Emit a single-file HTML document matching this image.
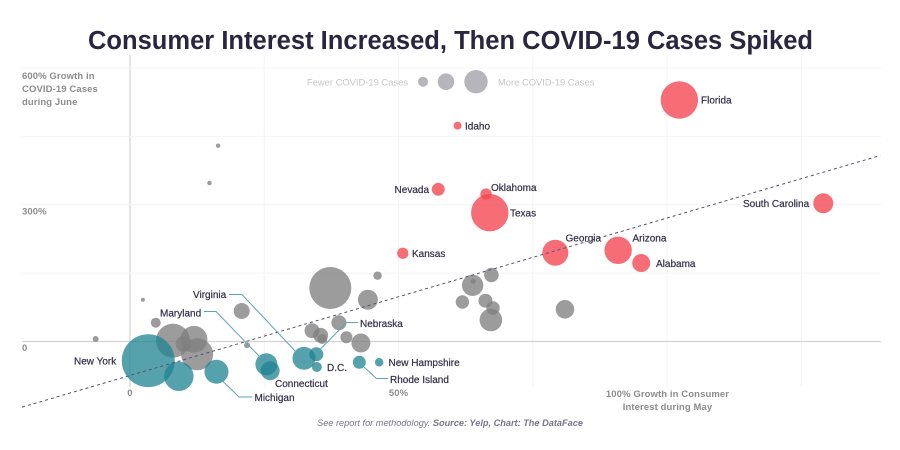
<!DOCTYPE html>
<html lang="en">
<head>
<meta charset="utf-8">
<title>Consumer Interest Increased, Then COVID-19 Cases Spiked</title>
<style>
html,body{margin:0;padding:0;background:#fff;width:900px;height:450px;overflow:hidden}
svg{display:block}
text{font-family:"Liberation Sans",sans-serif}
.lab{font-size:10px;fill:#34324a;stroke:#34324a;stroke-width:.22px}
.axl{font-size:9.5px;font-weight:bold;fill:#8c8c8c;letter-spacing:.1px}
.leg{font-size:9.4px;fill:#c6c6ca}
.conn{fill:none;stroke:#5fa5b0;stroke-width:1}
</style>
</head>
<body>
<svg id="chart" width="900" height="450" viewBox="0 0 900 450" xmlns="http://www.w3.org/2000/svg">
  <text x="88" y="49" textLength="725" lengthAdjust="spacing" style="font-size:25.5px;font-weight:bold;fill:#2a2640">Consumer Interest Increased, Then COVID-19 Cases Spiked</text>
  <g id="grid"></g>
  <g id="marks"></g>
  <g id="trend"></g>
  <g>
    <polyline class="conn" points="229,294.5 242,294.5 296,352"/>
    <polyline class="conn" points="204,311.5 216,311.5 260,357"/>
    <polyline class="conn" points="223,381.5 239,397 252,397"/>
    <polyline class="conn" points="358,322.5 346.5,322.5 320.5,349"/>
    <polyline class="conn" points="364,367 376.5,378.5 388,378.5"/>
  </g>
  <g>
    <text class="lab" x="701" y="103.5">Florida</text>
    <text class="lab" x="465" y="129.5">Idaho</text>
    <text class="lab" x="429" y="193" text-anchor="end">Nevada</text>
    <text class="lab" x="491" y="191">Oklahoma</text>
    <text class="lab" x="510" y="216.5">Texas</text>
    <text class="lab" x="412" y="257">Kansas</text>
    <text class="lab" x="565.5" y="241.5">Georgia</text>
    <text class="lab" x="632.5" y="241.5">Arizona</text>
    <text class="lab" x="656" y="267">Alabama</text>
    <text class="lab" x="743" y="207">South Carolina</text>
    <text class="lab" x="193" y="298">Virginia</text>
    <text class="lab" x="160" y="316.5">Maryland</text>
    <text class="lab" x="74" y="364.5">New York</text>
    <text class="lab" x="254.5" y="401">Michigan</text>
    <text class="lab" x="275" y="387">Connecticut</text>
    <text class="lab" x="360" y="327">Nebraska</text>
    <text class="lab" x="327" y="371">D.C.</text>
    <text class="lab" x="388.5" y="366">New Hampshire</text>
    <text class="lab" x="390" y="383">Rhode Island</text>
  </g>
  <g>
    <text class="axl" x="22" y="79">600% Growth in</text>
    <text class="axl" x="22" y="92">COVID-19 Cases</text>
    <text class="axl" x="22" y="105">during June</text>
  </g>
  <g>
    <text class="axl" x="667.5" y="397" text-anchor="middle">100% Growth in Consumer</text>
    <text class="axl" x="667.5" y="410" text-anchor="middle">Interest during May</text>
  </g>
  <g>
    <text class="leg" x="408" y="85.5" text-anchor="end">Fewer COVID-19 Cases</text>
    <circle cx="423" cy="81.7" r="5" fill="#b6b5bc"/>
    <circle cx="446" cy="81.7" r="8.3" fill="#b6b5bc"/>
    <circle cx="476" cy="81.7" r="11.7" fill="#b6b5bc"/>
    <text class="leg" x="498" y="85.5">More COVID-19 Cases</text>
  </g>
  <text x="450" y="426" text-anchor="middle" style="font-size:9.2px;font-style:italic;fill:#77778a">See report for methodology. <tspan font-weight="bold">Source: Yelp, Chart: The DataFace</tspan></text>
</svg>
<script>
var xGridTicks = [0, 25, 50, 75, 100, 125];
var yGridTicks = [0, 150, 300, 450, 600];
var xTickLabels = ["0", "50%"];
var xTickLabelValues = [0, 50];
var yTickLabels = ["0", "300%"];
var yTickLabelValues = [0, 300];

var grayX = [2.4,-6.4,4.8,8,11.9,10,12.5,20.8,21.8,37.3,46.1,44.3,38.9,33.9,35.5,35.8,40.3,43,63.8,63.9,67.3,61.9,66.2,67.6,67.2,81,16.4,14.8];
var grayY = [91.7,5.5,41.2,1.8,4.8,-5.5,-28.1,66.9,-8.3,117.4,144.4,91.7,41.2,23.7,13.6,5.5,9.2,-3.3,123.3,132.1,145.9,86.7,89.5,73.5,47.2,70.6,429.6,347.7];
var graySize = [4,9,25,289,182,64,256,64,9,441,18,100,56,56,56,25,36,90,114,7,53,45,49,45,128,86,5,5];

var tealNames = ["new-york","unnamed-teal","michigan","maryland","connecticut","virginia","nebraska","dc","rhode-island","new-hampshire"];
var tealX = [3.4,9.1,16.1,25.4,26.1,32.4,34.7,34.8,42.7,46.4];
var tealY = [-42.1,-76.3,-66.3,-50,-64.1,-36.9,-28.1,-55.9,-45.6,-45.6];
var tealSize = [702,216,144,121,90,132,49,25,42,18];

var redNames = ["florida","idaho","nevada","oklahoma","texas","kansas","georgia","arizona","alabama","south-carolina"];
var redX = [102.3,61,57.4,66.3,67,50.8,79.2,90.9,95.2,129.1];
var redY = [529.8,473.5,333.9,323.6,282.6,193.5,194.8,200.1,172.2,303.2];
var redSize = [350,16,42,32,350,32,169,188,81,100];

var trendX = [-20.1, 139.7];
var trendY = [-144, 408];

var NS = "http://www.w3.org/2000/svg";
function xScale(v){ return 130 + v * 5.37; }
function yScale(v){ return 341.5 - v * 0.4558; }
function rScale(v){ return Math.sqrt(v); }

function make(tag, attrs, parent){
  var el = document.createElementNS(NS, tag);
  for (var k in attrs) el.setAttribute(k, attrs[k]);
  parent.appendChild(el);
  return el;
}

var grid = document.getElementById("grid");
xGridTicks.forEach(function(t){
  var l = make("line", {x1:xScale(t), x2:xScale(t), y1:55, y2:387, stroke: t === 0 ? "#d2d2d2" : "#f4f4f5", "stroke-width": t === 0 ? 1.2 : 1}, grid);
  
  
});
yGridTicks.forEach(function(t){
  var l = make("line", {x1:22, x2:881, y1:yScale(t), y2:yScale(t), stroke: t === 0 ? "#d2d2d2" : "#f4f4f5", "stroke-width": t === 0 ? 1.2 : 1}, grid);
  
  
});
xTickLabels.forEach(function(s, i){
  var t = make("text", {x:xScale(xTickLabelValues[i]), y:396, "text-anchor":"middle", "class":"axl"}, grid);
  
  
  t.textContent = s;
});
yTickLabels.forEach(function(s, i){
  var t = make("text", {x:22, y:yScale(yTickLabelValues[i]) + 9.5, "class":"axl"}, grid);
  
  
  t.textContent = s;
});

var marks = document.getElementById("marks");
grayX.forEach(function(v, i){
  var c = make("circle", {cx:xScale(v), cy:yScale(grayY[i]), r:rScale(graySize[i]), fill:"#808080", "fill-opacity":0.78}, marks);
  
  
});
tealX.forEach(function(v, i){
  var c = make("circle", {cx:xScale(v), cy:yScale(tealY[i]), r:rScale(tealSize[i]), fill:"#1f8392", "fill-opacity":0.76}, marks);
  
  
});
redX.forEach(function(v, i){
  var c = make("circle", {cx:xScale(v), cy:yScale(redY[i]), r:rScale(redSize[i]), fill:"#f3444f", "fill-opacity":0.78}, marks);
  
  
});

var tl = make("line", {x1:xScale(trendX[0]), y1:yScale(trendY[0]), x2:xScale(trendX[1]), y2:yScale(trendY[1]), stroke:"#55536a", "stroke-width":1, "stroke-dasharray":"3 3"}, document.getElementById("trend"));


</script>
</body>
</html>
